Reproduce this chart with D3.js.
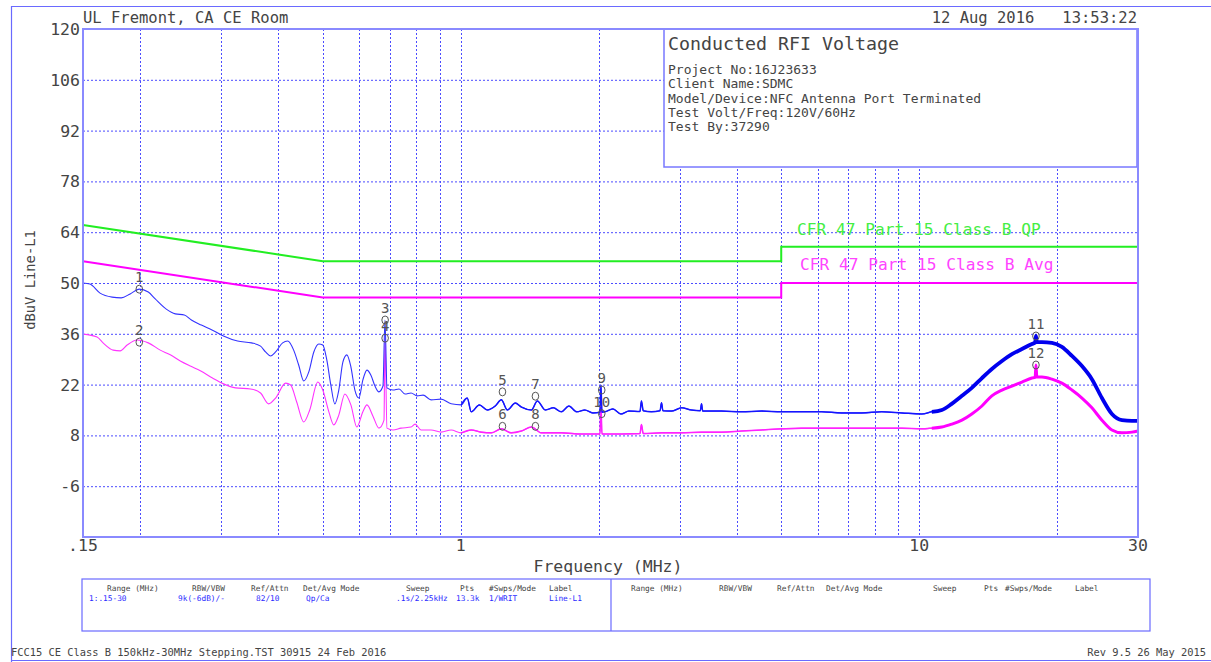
<!DOCTYPE html>
<html><head><meta charset="utf-8">
<script src="https://cdn.jsdelivr.net/npm/d3@7"></script>
<style>
html,body{margin:0;padding:0;background:#fff;}
svg text{font-family:"DejaVu Sans Mono",monospace;}
</style></head>
<body>
<svg id="c" width="1211" height="662"></svg>
<script>
// ---------- data ----------
const yTicks = [120,106,92,78,64,50,36,22,8,-6];
const xTickLabels = [[0.15,".15"],[1,"1"],[10,"10"],[30,"30"]];
const xGrid = [0.2,0.3,0.4,0.5,0.6,0.7,0.8,0.9,1,2,3,4,5,6,7,8,9,10,20];

const qpFreq  = [0.15,0.5,5,5,30];
const qpLevel = [66,56,56,60,60];
const avFreq  = [0.15,0.5,5,5,30];
const avLevel = [56,46,46,50,50];

const peakFreq = [0.150,0.1553,0.1634,0.1736,0.1817,0.1901,0.1989,0.2082,0.2156,0.2279,0.2385,0.2495,0.2585,0.2718,0.2874,0.3037,0.3260,0.3497,0.3659,0.3752,0.3848,0.3946,0.4088,0.4193,0.4321,0.4431,0.4545,0.4662,0.4781,0.4902,0.5001,0.5103,0.5207,0.5313,0.5420,0.5532,0.5644,0.5759,0.5876,0.5996,0.6117,0.6243,0.6369,0.6500,0.6630,0.6766,0.6835,0.6904,0.7116,0.7335,0.7559,0.7791,0.8031,0.8277,0.8616,0.9061,0.953,1.002,1.033,1.054,1.098,1.143,1.189,1.226,1.264,1.315,1.356,1.426,1.469,1.529,1.592,1.657,1.721,1.791,1.865,1.942,2.012,2.022,2.032,2.062,2.147,2.235,2.327,2.46,2.478,2.50,2.605,2.72,2.741,2.76,2.882,3.030,3.186,3.33,3.351,3.37,3.705,4.097,4.530,5.009,5.539,6.125,6.773,7.489,8.281,9.158,10.13,10.65,11.2,11.77,12.39,13.02,13.70,14.40,15.15,15.93,16.75,17.61,17.90,17.97,18.05,18.52,19.47,20.47,21.53,22.64,23.80,25.03,26.32,27.68,29.10,30.0];
const peakLevel = [50.0,49.7,47.2,46.1,45.9,47.0,48.3,47.5,45.6,42.8,41.5,41.2,39.8,38.4,37.0,35.4,34.0,33.5,32.6,31.0,29.9,31.0,33.5,34.0,31.5,27.4,23.0,25.5,31.0,33.2,32.9,28.8,21.9,16.7,20.5,28.2,30.2,26.9,20.5,18.3,23.3,26.0,24.6,21.6,20.0,21.6,39.8,21.1,20.5,20.8,19.4,19.7,18.9,19.1,17.8,18.0,16.7,16.4,18.3,14.5,16.4,15.0,16.1,17.8,15.0,16.9,15.8,15.0,17.5,15.0,15.6,14.5,16.1,14.5,15.0,14.2,14.4,21.9,14.4,14.5,15.3,13.9,14.7,14.6,17.5,14.8,14.5,14.8,17.0,14.8,14.7,15.6,15.0,14.8,16.7,14.7,14.7,14.5,14.7,14.5,14.5,14.5,14.2,14.2,14.5,14.2,13.9,14.5,15.0,16.7,18.9,21.1,23.8,26.3,28.5,30.4,31.8,33.2,33.6,35.4,33.7,33.7,33.5,32.4,29.9,27.1,23.5,18.3,13.9,12.2,12.0,12.0];

const avgFreq = [0.150,0.1610,0.1659,0.1745,0.1808,0.1872,0.1969,0.2082,0.2211,0.2325,0.2445,0.2571,0.2704,0.2874,0.3037,0.3227,0.3479,0.3659,0.3811,0.3946,0.4150,0.4256,0.4387,0.4545,0.4684,0.4877,0.5001,0.5156,0.5286,0.5420,0.5588,0.5759,0.5935,0.6117,0.6243,0.6435,0.6630,0.6801,0.6835,0.6904,0.7116,0.7408,0.7791,0.7952,0.8193,0.8616,0.9061,0.953,1.002,1.054,1.109,1.166,1.226,1.289,1.356,1.426,1.499,1.657,1.833,2.012,2.022,2.032,2.062,2.241,2.46,2.478,2.50,2.741,3.030,3.351,3.705,4.097,4.530,5.009,5.539,6.125,6.773,7.489,8.281,9.158,10.13,10.65,11.2,11.77,12.39,13.02,13.70,14.40,15.15,15.93,16.75,17.61,17.90,17.97,18.05,18.52,19.47,20.47,21.53,22.64,23.80,25.03,26.32,27.68,29.10,30.0];
const avgLevel = [35.9,35.1,33.5,31.5,31.3,32.9,34.3,33.5,31.5,30.2,28.5,27.1,25.8,23.8,22.2,21.1,20.8,19.7,16.7,18.3,22.4,21.9,17.2,11.7,15.0,22.7,20.5,14.5,10.9,13.6,19.4,16.4,10.3,14.5,16.4,13.3,10.0,12.2,34.8,10.0,9.5,10.0,10.3,11.1,9.5,9.5,8.9,9.5,8.7,9.5,8.9,8.7,9.8,8.7,9.2,10.3,8.7,8.7,8.4,8.4,16.4,8.4,8.4,8.4,8.5,11.0,8.5,8.7,8.7,8.9,8.9,9.2,9.5,9.8,10.0,10.0,10.0,10.0,10.0,10.0,9.8,10.0,10.3,11.1,12.2,13.9,16.1,18.9,20.5,21.6,22.7,23.8,24.0,27.4,24.1,24.1,23.5,22.4,20.5,18.3,15.6,12.2,9.5,8.7,8.9,9.2];

const markerIds   = ["1","2","3","4","5","6","7","8","9","10","11","12"];
const markerFreq  = [0.199,0.199,0.684,0.684,1.233,1.233,1.455,1.455,2.03,2.03,17.97,17.97];
const markerLevel = [48.3,33.7,39.8,34.8,20.0,10.5,18.8,10.5,20.5,14.0,35.4,27.4];

const infoTitle = "Conducted RFI Voltage";
const infoLines = ["Project No:16J23633","Client Name:SDMC","Model/Device:NFC Antenna Port Terminated","Test Volt/Freq:120V/60Hz","Test By:37290"];
const tableHeaders = ["Range (MHz)","RBW/VBW","Ref/Attn","Det/Avg Mode","Sweep","Pts","#Swps/Mode","Label"];
const tableRow = ["1:.15-30","9k(-6dB)/-","82/10","Qp/Ca",".1s/2.25kHz","13.3k","1/WRIT","Line-L1"];

// ---------- drawing ----------
const svg = d3.select("#c");
const L=83,R=1138,T=29,B=537;
const x = d3.scaleLog().domain([0.15,30]).range([L,R]);
const y = d3.scaleLinear().domain([-20,120]).range([B,T]);
const txt = "#444";

// outer frame
svg.append("line").attr("x1",11.5).attr("x2",11.5).attr("y1",6).attr("y2",662).attr("stroke","#6a6aff").attr("stroke-width",1.2);
svg.append("line").attr("x1",11).attr("x2",1211).attr("y1",6.5).attr("y2",6.5).attr("stroke","#6a6aff").attr("stroke-width",1.2);
svg.append("line").attr("x1",11).attr("x2",1211).attr("y1",660.5).attr("y2",660.5).attr("stroke","#6a6aff").attr("stroke-width",1.2);

// header
svg.append("text").attr("x",83).attr("y",23).attr("font-size",15.5).attr("fill",txt).text("UL Fremont, CA CE Room");
svg.append("text").attr("x",1137).attr("y",23).attr("font-size",15.5).attr("fill",txt).attr("text-anchor","end").attr("xml:space","preserve").text("12 Aug 2016   13:53:22");

// grid
const g = svg.append("g");
g.selectAll("line.h").data(yTicks.filter(v=>v<120)).join("line")
 .attr("x1",L).attr("x2",R).attr("y1",d=>y(d)+0.5).attr("y2",d=>y(d)+0.5)
 .attr("stroke","#4b4bff").attr("stroke-width",1).attr("stroke-dasharray","2,2");
g.selectAll("line.v").data(xGrid).join("line")
 .attr("x1",d=>Math.round(x(d))+0.5).attr("x2",d=>Math.round(x(d))+0.5).attr("y1",T).attr("y2",B)
 .attr("stroke","#4b4bff").attr("stroke-width",1).attr("stroke-dasharray","2,2");

// y labels
svg.selectAll("text.yl").data(yTicks).join("text")
 .attr("x",80).attr("y",d=>y(d)+6).attr("text-anchor","end").attr("font-size",16.5).attr("fill",txt).text(d=>d);
// x labels
svg.selectAll("text.xl").data(xTickLabels).join("text")
 .attr("x",d=>x(d[0])).attr("y",551).attr("text-anchor","middle").attr("font-size",16.5).attr("fill",txt).text(d=>d[1]);
svg.append("text").attr("x",608).attr("y",572).attr("text-anchor","middle").attr("font-size",16.5).attr("fill",txt).text("Frequency (MHz)");
svg.append("text").attr("transform","translate(35,280) rotate(-90)").attr("text-anchor","middle").attr("font-size",13.8).attr("fill",txt).text("dBuV Line-L1");

// info box
svg.append("rect").attr("x",664).attr("y",T).attr("width",1137-664).attr("height",167-T).attr("fill","#fff").attr("stroke","#7878ff").attr("stroke-width",1.5);
svg.append("text").attr("x",668).attr("y",50).attr("font-size",18.3).attr("fill",txt).text(infoTitle);
svg.selectAll("text.info").data(infoLines).join("text")
 .attr("x",668).attr("y",(d,i)=>74+i*14.3).attr("font-size",13).attr("fill",txt).text(d=>d);

// limit lines
const line = d3.line().x(d=>x(d[0])).y(d=>y(d[1]));
const tline = d3.line().x(d=>x(d[0])).y(d=>y(d[1])).curve(d3.curveMonotoneX);
svg.append("path").attr("d",line(d3.zip(qpFreq,qpLevel))).attr("fill","none").attr("stroke","#22ee22").attr("stroke-width",2);
svg.append("path").attr("d",line(d3.zip(avFreq,avLevel))).attr("fill","none").attr("stroke","#ff00ff").attr("stroke-width",2);
svg.append("text").attr("x",797).attr("y",235).attr("font-size",16.2).attr("fill","#44ee44").text("CFR 47 Part 15 Class B QP");
svg.append("text").attr("x",800).attr("y",270).attr("font-size",16.2).attr("fill","#ff44ff").text("CFR 47 Part 15 Class B Avg");

// traces
const avgPts = d3.zip(avgFreq,avgLevel);
const peakPts = d3.zip(peakFreq,peakLevel);
svg.append("path").attr("d",tline(avgPts)).attr("fill","none").attr("stroke","#ff33ff").attr("stroke-width",1.1);
svg.append("path").attr("d",tline(avgPts.filter(d=>d[0]>=1))).attr("fill","none").attr("stroke","#ff22ff").attr("stroke-width",1.5);
svg.append("path").attr("d",tline(avgPts.filter(d=>d[0]>=10.6))).attr("fill","none").attr("stroke","#ff00ff").attr("stroke-width",3);
svg.append("path").attr("d",tline(peakPts)).attr("fill","none").attr("stroke","#3333ff").attr("stroke-width",1.1);
svg.append("path").attr("d",tline(peakPts.filter(d=>d[0]>=1))).attr("fill","none").attr("stroke","#1515ff").attr("stroke-width",1.5);
svg.append("path").attr("d",tline(peakPts.filter(d=>d[0]>=10.6))).attr("fill","none").attr("stroke","#0000ee").attr("stroke-width",3.8);

// plot border
svg.append("rect").attr("x",L).attr("y",T).attr("width",R-L).attr("height",B-T).attr("fill","none").attr("stroke","#8a8aff").attr("stroke-width",2);

// markers
const mk = d3.zip(markerIds,markerFreq,markerLevel);
svg.selectAll("ellipse.mk").data(mk).join("ellipse")
 .attr("cx",d=>x(d[1])).attr("cy",d=>y(d[2])).attr("rx",3.3).attr("ry",4).attr("fill","none").attr("stroke","#555").attr("stroke-width",1);
svg.selectAll("text.mk").data(mk).join("text")
 .attr("x",d=>x(d[1])).attr("y",d=>y(d[2])-7).attr("text-anchor","middle").attr("font-size",14).attr("fill","#555").text(d=>d[0]);

// table
svg.append("rect").attr("x",82).attr("y",579).attr("width",1150-82).attr("height",631-579).attr("fill","none").attr("stroke","#6a6aff").attr("stroke-width",1.2);
svg.append("line").attr("x1",611).attr("x2",611).attr("y1",579).attr("y2",631).attr("stroke","#6a6aff").attr("stroke-width",1.2);
const colL = [107,192,251,303,406,460,489,549];
const colR = [631,719,777,826,933,984,1005,1075];
const rowX = [89,178,256,306,396,456,489,549];
svg.selectAll("text.th").data(tableHeaders).join("text").attr("x",(d,i)=>colL[i]).attr("y",591).attr("font-size",7.8).attr("fill",txt).text(d=>d);
svg.selectAll("text.th2").data(tableHeaders).join("text").attr("x",(d,i)=>colR[i]).attr("y",591).attr("font-size",7.8).attr("fill",txt).text(d=>d);
svg.selectAll("text.tr").data(tableRow).join("text").attr("x",(d,i)=>rowX[i]).attr("y",601).attr("font-size",7.8).attr("fill","#2a2aff").text(d=>d);

// footer
svg.append("text").attr("x",11).attr("y",656).attr("font-size",10.4).attr("fill",txt).text("FCC15 CE Class B 150kHz-30MHz Stepping.TST 30915 24 Feb 2016");
svg.append("text").attr("x",1206).attr("y",656).attr("text-anchor","end").attr("font-size",10.4).attr("fill",txt).text("Rev 9.5 26 May 2015");
</script>
</body></html>
